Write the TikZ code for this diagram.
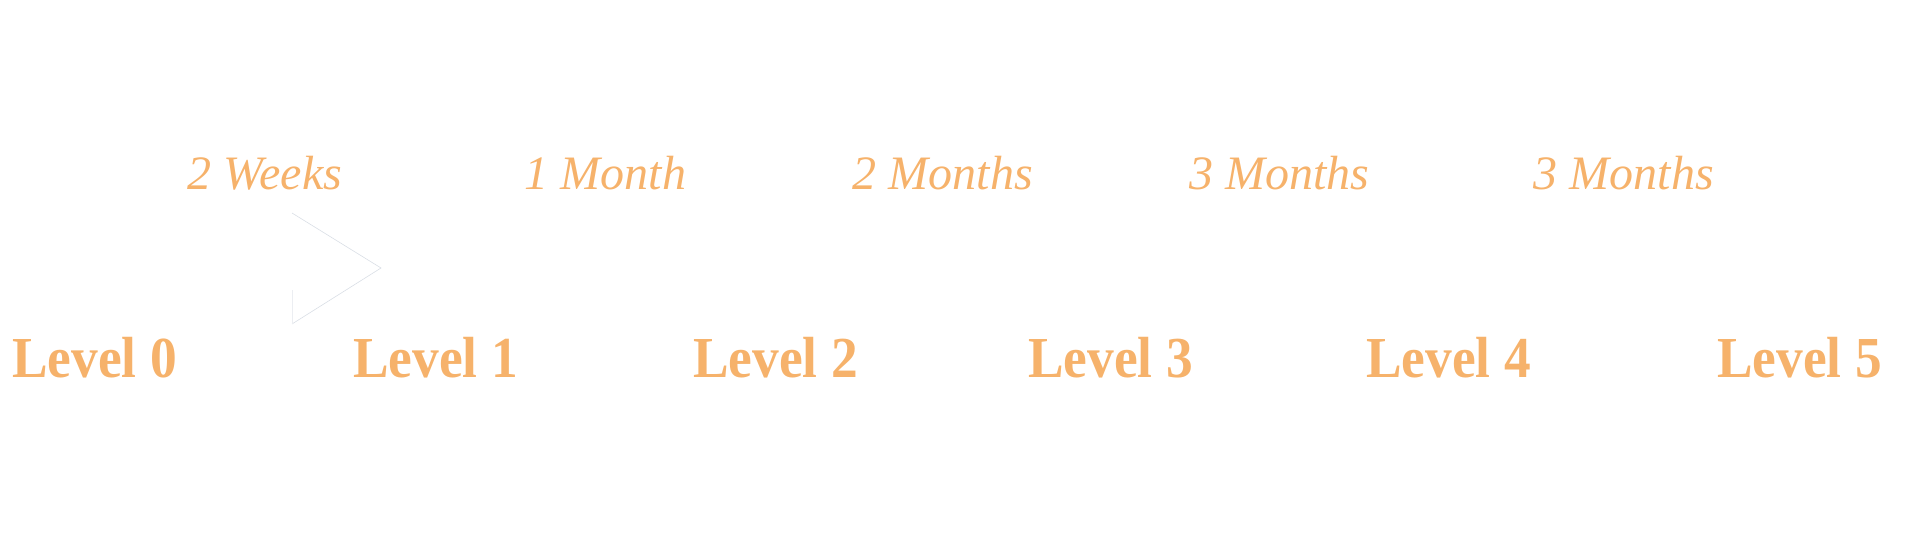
\documentclass[tikz,border=0pt]{standalone}
\usepackage{fontspec}
\setmainfont{Liberation Serif}
\newfontfamily\levelfont[FakeStretch=0.92]{Liberation Serif}
\usepackage{tikz}
\usetikzlibrary{positioning, calc}
\definecolor{levelorange}{HTML}{F6B26B}
\definecolor{chevrongray}{HTML}{D9DEE5}

\begin{document}
\begin{tikzpicture}[x=1pt, y=-1pt]
        % Styles
        \tikzstyle{level} = [text=levelorange, inner sep=0pt, anchor=base west,
        font=\levelfont\bfseries\fontsize{58}{60}\selectfont]
        \tikzstyle{duration} = [text=levelorange, inner sep=0pt, anchor=base,
        font=\itshape\fontsize{48}{50}\selectfont]

        \useasboundingbox (0,0) rectangle (1920,540);

        % Levels
        \node (lvl0) [level] at (12,377) {Level 0};
        \node (lvl1) [level] at (353,377) {Level 1};
        \node (lvl2) [level] at (693,377) {Level 2};
        \node (lvl3) [level] at (1028,377) {Level 3};
        \node (lvl4) [level] at (1366,377) {Level 4};
        \node (lvl5) [level] at (1717,377) {Level 5};

        % Durations
        \node (weeks2) [duration] at ($(lvl0.base)!0.5!(lvl1.base) + (0,-187)$) {2 Weeks};
        \node (month1) [duration] at ($(lvl1.base)!0.5!(lvl2.base) + (0,-187)$) {1 Month};
        \node (months2) [duration] at ($(lvl2.base)!0.5!(lvl3.base) + (0,-187)$) {2 Months};
        \node (months3a) [duration] at ($(lvl3.base)!0.5!(lvl4.base) + (0,-187)$) {3 Months};
        \node (months3b) [duration] at ($(lvl4.base)!0.5!(lvl5.base) + (0,-187)$) {3 Months};

        % Chevron
        \draw[chevrongray, line width=0.6pt] (292,213) -- (381,268) -- (292,324);
        \draw[chevrongray!50, line width=0.4pt] (292,290) -- (292,324);
    \end{tikzpicture}
\end{document}
